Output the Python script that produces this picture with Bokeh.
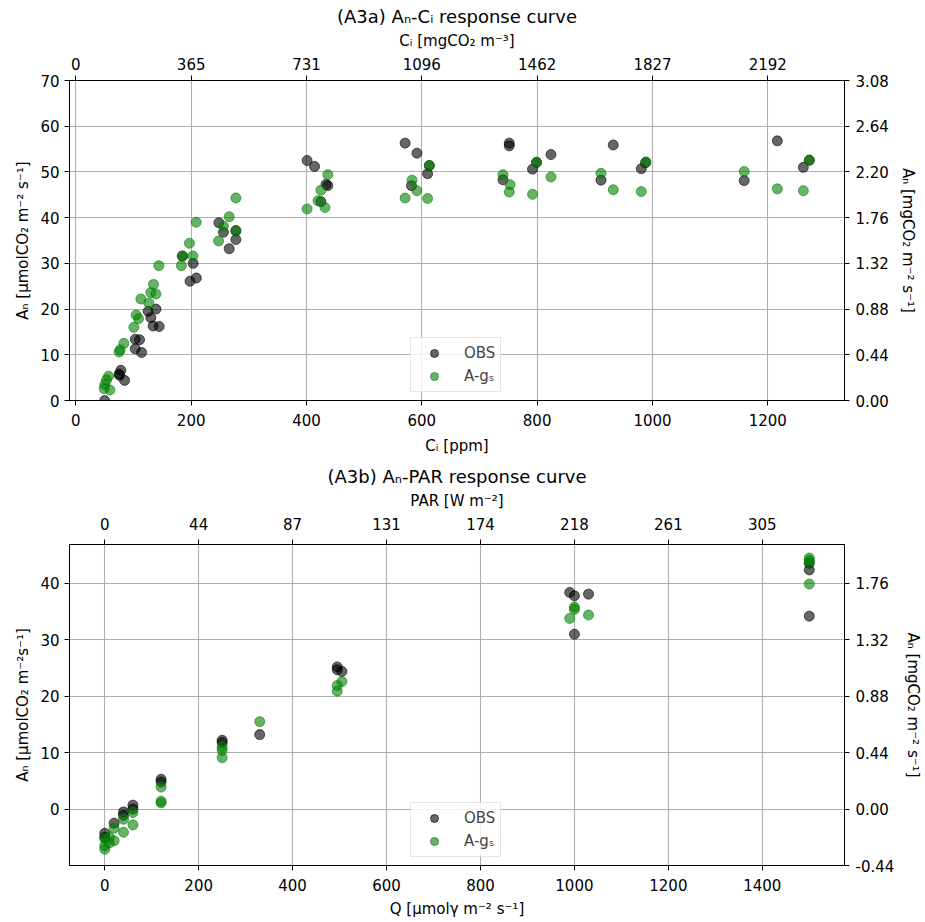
from bokeh.plotting import figure
from bokeh.models import LinearAxis, FixedTicker, Range1d, Legend, LegendItem
from bokeh.layouts import column
from bokeh.embed import file_html
from bokeh.resources import INLINE

FONT = "DejaVu Sans"

# ---------------- (A3a) An-Ci data ----------------
ci_obs = [50, 75, 76, 78, 84.5, 103, 103, 110.5, 114, 125.5, 130, 134, 139, 144.5,
          184.5, 198, 203.5, 209, 248, 256, 266, 277.5, 277.5,
          401, 414, 425, 434, 437, 571, 582, 591.5, 610, 613,
          740.7, 751.6, 751.6, 792, 799, 824, 910.7, 932, 980.6, 988,
          1159, 1216.5, 1261.6, 1272]
an_ci_obs = [0.0, 5.8, 5.5, 6.6, 4.4, 13.4, 11.3, 13.3, 10.5, 19.5, 18.1, 16.3, 20.0, 16.2,
             31.6, 26.1, 30.0, 26.8, 38.9, 36.8, 33.2, 37.2, 35.2,
             52.5, 51.2, 43.5, 47.3, 47.0, 56.3, 47.0, 54.1, 49.6, 51.4,
             48.3, 56.3, 55.7, 50.6, 52.1, 53.8, 48.2, 55.9, 50.7, 52.0,
             48.1, 56.8, 51.0, 52.6]

ci_ags = [49.1, 50.3, 53.2, 56.7, 59, 75, 76.9, 83.3, 100.6, 104.6, 108.7, 112.8, 126.6,
          130, 134.7, 138.8, 144, 183, 185.6, 197, 203, 208.7, 247.5, 256, 266, 277.5, 277.5,
          401, 420, 425, 432, 437, 571, 583, 591.5, 610, 613,
          740.7, 753, 751.6, 792, 799, 824, 910.7, 932, 980.6, 988.7,
          1159, 1216.5, 1261.6, 1272]
an_ci_ags = [2.6, 3.5, 4.5, 5.3, 2.3, 10.6, 11.1, 12.5, 16.0, 18.7, 17.9, 22.2, 21.3,
             23.6, 25.4, 23.3, 29.5, 29.5, 31.6, 34.4, 31.6, 39.0, 34.9, 38.1, 40.2, 44.3, 37.0,
             41.9, 43.7, 46.0, 42.2, 49.4, 44.3, 48.2, 45.9, 44.2, 51.4,
             49.4, 47.2, 45.6, 45.1, 52.1, 48.9, 49.7, 46.1, 45.7, 52.2,
             50.1, 46.3, 45.9, 52.5]

ci_ticks = [0, 200, 400, 600, 800, 1000, 1200]
ci_mg_labels = ["0", "365", "731", "1096", "1462", "1827", "2192"]
an_ci_ticks = [0, 10, 20, 30, 40, 50, 60, 70]
an_ci_mg_labels = ["0.00", "0.44", "0.88", "1.32", "1.76", "2.20", "2.64", "3.08"]

# ---------------- (A3b) An-PAR data ----------------
q_obs = [0, 0, 20, 40, 40, 60, 60, 120, 120, 250, 250, 330, 495, 495, 505,
         990, 1000, 1030, 1000, 1500, 1500, 1500]
an_q_obs = [-4.3, -5.0, -2.5, -0.5, -1.1, 0.7, 0.0, 5.3, 4.8, 12.2, 11.8, 13.2, 25.2, 24.7, 24.4,
            38.4, 37.8, 38.1, 31.0, 43.6, 42.4, 34.2]

q_ags = [0, 0, 0, 10, 10, 20, 20, 40, 40, 60, 60, 120, 120, 120, 250, 250, 250, 330,
         495, 495, 505, 990, 1000, 1000, 1030, 1500, 1500, 1500, 1500]
an_q_ags = [-5.2, -6.5, -7.1, -6.0, -5.0, -3.4, -5.6, -1.8, -4.1, -0.6, -2.8, 3.9, 1.4, 1.1,
            11.0, 10.4, 9.1, 15.5, 21.9, 20.9, 22.6, 33.8, 35.8, 35.4, 34.4,
            44.5, 44.1, 43.7, 39.9]

q_ticks = [0, 200, 400, 600, 800, 1000, 1200, 1400]
par_labels = ["0", "44", "87", "131", "174", "218", "261", "305"]
an_q_ticks = [0, 10, 20, 30, 40]
an_q_mg_ticks = [-10, 0, 10, 20, 30, 40]
an_q_mg_labels = ["-0.44", "0.00", "0.44", "0.88", "1.32", "1.76"]


def style_axis(ax, ticks, labels=None, label=None, tstand=7, lstand=8):
    ax.ticker = FixedTicker(ticks=ticks)
    if labels is not None:
        ax.major_label_overrides = {t: l for t, l in zip(ticks, labels)}
    ax.axis_line_color = "black"
    ax.axis_line_width = 1
    ax.major_tick_line_color = "black"
    ax.major_tick_out = 5
    ax.major_tick_in = 0
    ax.minor_tick_line_color = None
    ax.major_label_text_font = FONT
    ax.major_label_text_font_size = "15px"
    ax.major_label_text_color = "black"
    ax.major_label_standoff = tstand
    if label is not None:
        ax.axis_label = label
    ax.axis_label_text_font = FONT
    ax.axis_label_text_font_size = "15px"
    ax.axis_label_text_font_style = "normal"
    ax.axis_label_text_color = "black"
    ax.axis_label_standoff = lstand


def make_plot(title, xr, yr, h, top, bottom, x_obs, y_obs, x_ags, y_ags,
              xticks, xtop_labels, xtop_title, xlabel,
              yticks, ylabel, yr_ticks, yr_labels, yrlabel, xlab_stand, top_stand):
    p = figure(width=925, height=h, x_range=Range1d(*xr), y_range=Range1d(*yr),
               output_backend="svg", toolbar_location=None,
               min_border_left=69, min_border_right=81,
               min_border_top=top, min_border_bottom=bottom)
    p.title.text = title
    p.title.align = "center"
    p.title.text_font = FONT
    p.title.text_font_size = "18px"
    p.title.text_font_style = "normal"
    p.title.text_color = "black"
    p.title.standoff = 4
    p.outline_line_color = "black"
    p.background_fill_color = "white"
    p.border_fill_color = "white"

    style_axis(p.xaxis[0], xticks, label=xlabel, tstand=8, lstand=xlab_stand)
    style_axis(p.yaxis[0], yticks, label=ylabel, tstand=5, lstand=5)
    top_ax = LinearAxis()
    style_axis(top_ax, xticks, xtop_labels, xtop_title, tstand=top_stand, lstand=5)
    p.add_layout(top_ax, "above")
    right_ax = LinearAxis()
    style_axis(right_ax, yr_ticks, yr_labels, yrlabel, tstand=6, lstand=7)
    p.add_layout(right_ax, "right")

    p.xgrid.ticker = FixedTicker(ticks=xticks)
    p.ygrid.ticker = FixedTicker(ticks=yticks)
    for g in (p.xgrid[0], p.ygrid[0]):
        g.grid_line_color = "#b0b0b0"
        g.grid_line_width = 1.1

    r1 = p.scatter(x_obs, y_obs, size=10, fill_color="black", fill_alpha=0.6,
                   line_color="black", line_alpha=0.6, line_width=1)
    r2 = p.scatter(x_ags, y_ags, size=10, fill_color="green", fill_alpha=0.6,
                   line_color="green", line_alpha=0.6, line_width=1)
    leg = Legend(items=[LegendItem(label="OBS", renderers=[r1]),
                        LegendItem(label="A-gₛ", renderers=[r2])],
                 location=(341, 8))
    leg.label_text_font = FONT
    leg.label_text_font_size = "15px"
    leg.border_line_color = "#cccccc"
    leg.border_line_width = 1
    leg.background_fill_alpha = 0.8
    leg.padding = 5
    leg.spacing = 3
    leg.margin = 0
    leg.glyph_width = 36
    leg.glyph_height = 20
    leg.label_standoff = 12
    leg.label_height = 20
    p.add_layout(leg)
    return p


p1 = make_plot("(A3a) Aₙ-Cᵢ response curve", (-11, 1333), (0, 70), 458, 80, 58,
               ci_obs, an_ci_obs, ci_ags, an_ci_ags,
               ci_ticks, ci_mg_labels, "Cᵢ [mgCO₂ m⁻³]", "Cᵢ [ppm]",
               an_ci_ticks, "Aₙ [μmolCO₂ m⁻² s⁻¹]", an_ci_ticks, an_ci_mg_labels,
               "Aₙ [mgCO₂ m⁻² s⁻¹]", 8, 6)

p2 = make_plot("(A3b) Aₙ-PAR response curve", (-75, 1575), (-10, 46.9), 463, 86, 56,
               q_obs, an_q_obs, q_ags, an_q_ags,
               q_ticks, par_labels, "PAR [W m⁻²]", "Q [μmolγ m⁻² s⁻¹]",
               an_q_ticks, "Aₙ [μmolCO₂ m⁻²s⁻¹]", an_q_mg_ticks, an_q_mg_labels,
               "Aₙ [mgCO₂ m⁻² s⁻¹]", 6, 10)

layout = column(p1, p2, spacing=0)
open("out.html", "w").write(file_html(layout, INLINE))
